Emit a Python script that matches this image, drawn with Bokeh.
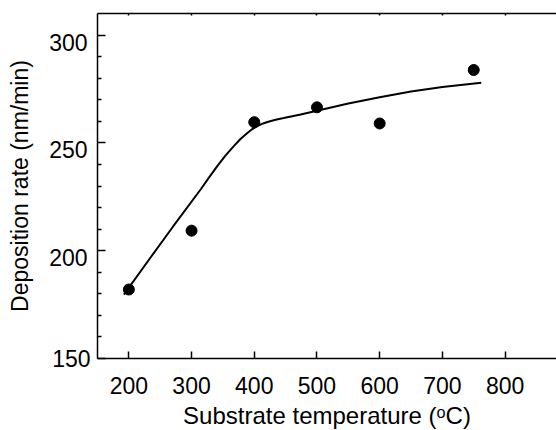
from bokeh.plotting import figure
from bokeh.models import LinearAxis, FixedTicker, Range1d
from bokeh.embed import file_html
from bokeh.resources import INLINE

# measured data points
temp_points = [200, 300, 400, 500, 600, 750]
rate_points = [182.0, 209.3, 259.6, 266.5, 259.0, 283.8]

# fitted curve
fit_temp = [192, 230, 270, 315, 328, 341, 354, 367, 378, 389, 397, 405, 413, 421, 434, 447, 474, 500, 550, 600, 650, 700, 762]
fit_rate = [179.6, 195.0, 211.0, 228.6, 234.0, 239.2, 244.1, 248.4, 251.8, 254.6, 256.4, 257.8, 258.9, 259.7, 260.7, 261.5, 263.2, 264.9, 268.3, 271.2, 273.8, 275.9, 277.9]

x_ticks = [200, 300, 400, 500, 600, 700, 800]
y_ticks = [150, 200, 250, 300]
y_minor_ticks = [160, 170, 180, 190, 210, 220, 230, 240, 260, 270, 280, 290]

FONT = "Liberation Sans"
X0, X1 = 150, 882
Y0, Y1 = 150, 310
LABEL_SHIFT = 3.25  # reference draws y tick labels slightly below their ticks

p = figure(frame_width=459, frame_height=345,
           x_range=Range1d(X0, X1), y_range=Range1d(Y0, Y1),
           output_backend="svg", toolbar_location=None,
           min_border_left=97, min_border_right=0, min_border_top=13, min_border_bottom=72)
p.outline_line_color = None
p.grid.visible = False
p.background_fill_color = "white"
p.border_fill_color = "white"

p.line(fit_temp, fit_rate, line_color="black", line_width=2)
p.scatter(temp_points, rate_points, size=11, marker="circle", fill_color="black", line_color="black")

# bottom axis
xa = p.xaxis[0]
xa.ticker = FixedTicker(ticks=x_ticks)
xa.axis_line_color = "black"
xa.axis_line_width = 1.5
xa.major_tick_in = 7
xa.major_tick_out = 0
xa.major_tick_line_width = 1.5
xa.minor_tick_line_color = None
xa.major_label_text_font = FONT
xa.major_label_text_font_size = "23px"
xa.major_label_text_color = "black"
xa.major_label_standoff = 18
xa.axis_label = "Substrate temperature (\u1d52C)"
xa.axis_label_text_font = FONT
xa.axis_label_text_font_size = "24px"
xa.axis_label_text_font_style = "normal"
xa.axis_label_text_color = "black"
xa.axis_label_standoff = 5

# left axis: line, ticks and the lowest label (150)
ya = p.yaxis[0]
ya.ticker = FixedTicker(ticks=y_ticks, minor_ticks=y_minor_ticks)
ya.axis_line_color = "black"
ya.axis_line_width = 1.5
ya.major_tick_in = 8
ya.major_tick_out = 0
ya.major_tick_line_width = 1.5
ya.minor_tick_in = 4
ya.minor_tick_out = 0
ya.minor_tick_line_width = 1.5
ya.major_label_overrides = {v: "" for v in y_ticks[1:]}
ya.major_label_text_font = FONT
ya.major_label_text_font_size = "23px"
ya.major_label_text_color = "black"
ya.major_label_standoff = 7

# second left axis on a slightly shifted range: labels 200-300 sit a little under their ticks
p.extra_y_ranges = {"labels": Range1d(Y0 + LABEL_SHIFT, Y1 + LABEL_SHIFT)}
la = LinearAxis(y_range_name="labels", ticker=FixedTicker(ticks=y_ticks[1:]))
la.axis_line_color = None
la.major_tick_line_color = None
la.minor_tick_line_color = None
la.major_tick_in = 0
la.major_tick_out = 0
la.minor_tick_in = 0
la.minor_tick_out = 0
la.major_label_text_font = FONT
la.major_label_text_font_size = "23px"
la.major_label_text_color = "black"
la.major_label_standoff = -38
la.axis_label = "Deposition rate (nm/min)"
la.axis_label_text_font = FONT
la.axis_label_text_font_size = "23px"
la.axis_label_text_font_style = "normal"
la.axis_label_text_color = "black"
la.axis_label_standoff = 13
p.add_layout(la, "left")

# top border with small inward ticks (no labels)
ta = LinearAxis(ticker=FixedTicker(ticks=[], minor_ticks=x_ticks))
ta.axis_line_color = "black"
ta.axis_line_width = 1.5
ta.major_tick_line_color = None
ta.minor_tick_in = 2
ta.minor_tick_out = 0
ta.minor_tick_line_width = 1.5
ta.major_label_standoff = 0
p.add_layout(ta, "above")

open("out.html", "w").write(file_html(p, INLINE))
